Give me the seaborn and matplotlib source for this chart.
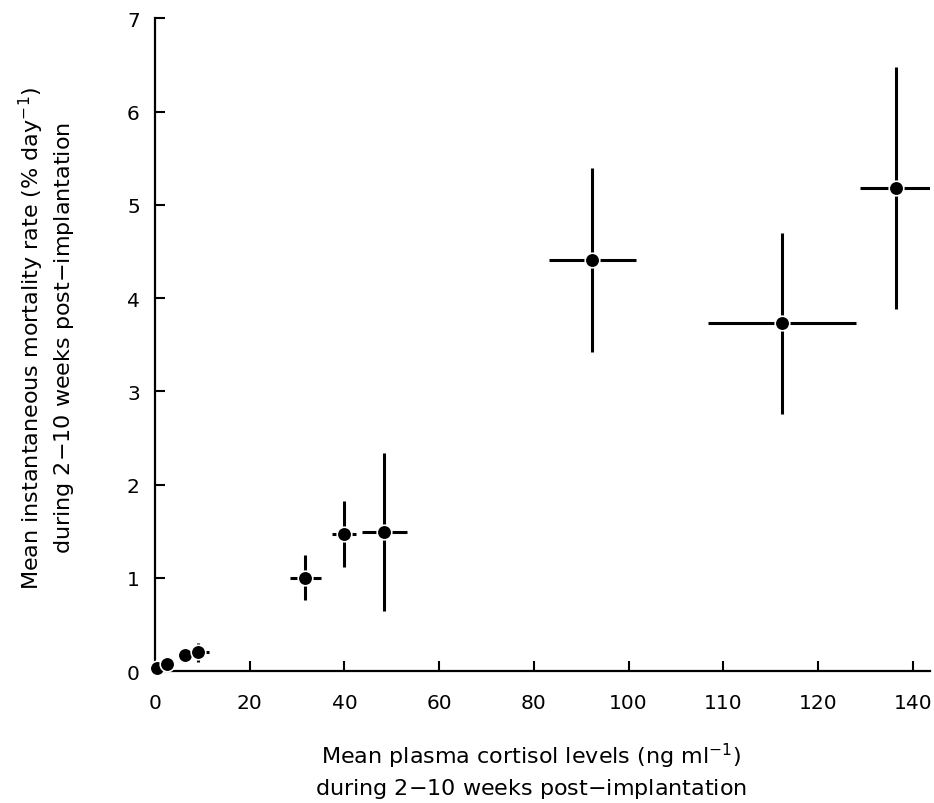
import matplotlib
matplotlib.use("Agg")
import matplotlib.pyplot as plt
import seaborn as sns
import pandas as pd

# ---- data ----
cortisol = [0.4, 2.5, 6.3, 9.1, 31.7, 39.9, 48.4, 92.3, 132.4, 156.5]
mortality = [0.03, 0.08, 0.17, 0.20, 1.00, 1.47, 1.49, 4.41, 3.73, 5.18]
cortisol_err = [0, 0, 0, 2.3, 3.3, 2.5, 4.7, 9.2, 15.6, 7.7]
mortality_err = [0, 0, 0, 0.10, 0.24, 0.35, 0.85, 0.99, 0.97, 1.30]

x_tick_pos = [0, 20, 40, 60, 80, 100, 120, 140, 160]
x_tick_labels = ["0", "20", "40", "60", "80", "100", "110", "120", "140"]
y_ticks = [0, 1, 2, 3, 4, 5, 6, 7]

df = pd.DataFrame({"cortisol": cortisol, "mortality": mortality,
                   "xerr": cortisol_err, "yerr": mortality_err})

sns.set_style("ticks")
plt.rcParams["font.family"] = ["DejaVu Sans"]
plt.rcParams["text.color"] = "black"
plt.rcParams["axes.labelcolor"] = "black"

fig = plt.figure(figsize=(9.34, 8.04), dpi=100)
ax = fig.add_axes([0.166, 0.164, 0.830, 0.812])

ax.errorbar(df["cortisol"], df["mortality"], xerr=df["xerr"], yerr=df["yerr"],
            fmt="none", ecolor="black", elinewidth=2.2, capsize=0, zorder=2)
sns.scatterplot(data=df, x="cortisol", y="mortality", ax=ax, color="black",
                s=110, edgecolor="white", linewidth=1.2, zorder=3, clip_on=False)

ax.set_xlim(0, 163.7)
ax.set_ylim(0, 7)
ax.set_xticks(x_tick_pos)
ax.set_xticklabels(x_tick_labels)
ax.set_yticks(y_ticks)

for side in ["top", "right"]:
    ax.spines[side].set_visible(False)
for side in ["left", "bottom"]:
    ax.spines[side].set_linewidth(1.6)
    ax.spines[side].set_color("black")

ax.tick_params(axis="both", direction="in", length=7, width=1.5,
               labelsize=14.5, colors="black")
ax.tick_params(axis="x", pad=16)
ax.tick_params(axis="y", pad=11)

ax.set_xlabel("Mean plasma cortisol levels (ng ml$^{-1}$)\nduring 2$-$10 weeks post$-$implantation",
              fontsize=16, linespacing=1.35, color="black")
ax.set_ylabel("Mean instantaneous mortality rate (% day$^{-1}$)\nduring 2$-$10 weeks post$-$implantation",
              fontsize=16, linespacing=1.35, color="black")
ax.xaxis.set_label_coords(0.485, -0.106)
ax.yaxis.set_label_coords(-0.102, 0.512)

fig.savefig("out.png", dpi=100, facecolor="white")
